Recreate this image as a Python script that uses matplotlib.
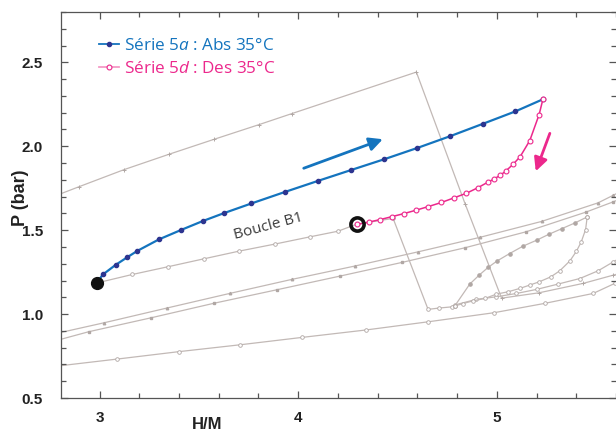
import numpy as np
import matplotlib.pyplot as plt
from matplotlib.lines import Line2D
from matplotlib.ticker import MultipleLocator, FormatStrFormatter

plt.rcParams['mathtext.fontset'] = 'custom'
plt.rcParams['mathtext.rm'] = 'Open Sans'
plt.rcParams['mathtext.it'] = 'Open Sans:italic'

# Série 5a : absorption 35°C
abs_x = [2.985, 3.017, 3.081, 3.140, 3.191, 3.299, 3.412, 3.519, 3.625, 3.764,
         3.934, 4.098, 4.268, 4.434, 4.600, 4.765, 4.928, 5.094, 5.232]
abs_y = [1.185, 1.236, 1.293, 1.339, 1.377, 1.445, 1.502, 1.554, 1.601, 1.659,
         1.728, 1.793, 1.859, 1.923, 1.990, 2.060, 2.133, 2.208, 2.280]

# Série 5d : désorption 35°C
des_x = [5.232, 5.213, 5.166, 5.118, 5.084, 5.044, 5.017, 4.986, 4.955, 4.903,
         4.847, 4.783, 4.721, 4.656, 4.593, 4.533, 4.473, 4.412, 4.355, 4.296]
des_y = [2.280, 2.189, 2.034, 1.939, 1.895, 1.851, 1.827, 1.805, 1.786, 1.752,
         1.720, 1.692, 1.665, 1.641, 1.619, 1.599, 1.581, 1.563, 1.548, 1.534]

# autres isothermes (en gris)
g1_x = [2.75, 2.899, 3.124, 3.349, 3.578, 3.803, 3.969, 4.595, 4.841, 5.024, 5.213, 5.435, 5.586, 5.70]
g1_y = [1.692, 1.760, 1.861, 1.952, 2.042, 2.129, 2.195, 2.442, 1.655, 1.095, 1.127, 1.183, 1.232, 1.268]

g2_x = [2.985, 3.165, 3.344, 3.524, 3.702, 3.882, 4.058, 4.201, 4.295, 4.478, 4.654, 4.709,
        4.772, 4.788, 4.897, 4.998, 5.099, 5.200, 5.309, 5.418, 5.510, 5.586, 5.65]
g2_y = [1.185, 1.236, 1.282, 1.329, 1.375, 1.417, 1.460, 1.494, 1.536, 1.570, 1.028, 1.036,
        1.043, 1.054, 1.088, 1.103, 1.123, 1.147, 1.179, 1.212, 1.258, 1.311, 1.355]

loop_up_x = [4.788, 4.864, 4.911, 4.956, 5.002, 5.065, 5.132, 5.200, 5.263, 5.329, 5.393, 5.455]
loop_up_y = [1.048, 1.179, 1.232, 1.278, 1.317, 1.361, 1.405, 1.440, 1.476, 1.510, 1.543, 1.579]
loop_dn_x = [5.455, 5.447, 5.425, 5.401, 5.368, 5.317, 5.272, 5.213, 5.166, 5.116, 5.057,
             4.998, 4.940, 4.881, 4.830, 4.788]
loop_dn_y = [1.579, 1.504, 1.430, 1.375, 1.317, 1.258, 1.222, 1.192, 1.173, 1.153, 1.133,
             1.119, 1.093, 1.079, 1.063, 1.048]

g3_x = [2.75, 3.022, 3.339, 3.655, 3.969, 4.288, 4.604, 4.914, 5.225, 5.510, 5.586, 5.65]
g3_y = [0.876, 0.948, 1.036, 1.123, 1.207, 1.287, 1.371, 1.457, 1.552, 1.663, 1.708, 1.746]

g4_x = [2.75, 2.946, 3.260, 3.574, 3.893, 4.209, 4.523, 4.839, 5.146, 5.447, 5.584, 5.65]
g4_y = [0.832, 0.895, 0.978, 1.064, 1.145, 1.226, 1.308, 1.395, 1.490, 1.607, 1.668, 1.70]

g5_x = [2.75, 3.089, 3.398, 3.707, 4.019, 4.339, 4.654, 4.985, 5.242, 5.485, 5.594, 5.65]
g5_y = [0.685, 0.732, 0.776, 0.817, 0.861, 0.905, 0.954, 1.008, 1.064, 1.123, 1.183, 1.21]

blue_arrow = [(4.028, 1.869), (4.426, 2.042)]
pink_arrow = [(5.267, 2.077), (5.196, 1.851)]

BLUE = '#1474be'
NAVY = '#2d3590'
PINK = '#ec288c'
GREY = '#c2b9b6'
GREYM = '#b0a7a4'

fig = plt.figure(figsize=(6.16, 4.32), dpi=100)
ax = fig.add_axes([0.099, 0.0787, 0.901, 0.8935])

lw_g = 0.9
ax.plot(g1_x, g1_y, color=GREY, lw=lw_g, marker='+', ms=2.5, mec=GREYM, mew=0.7, zorder=1)
ax.plot(g3_x, g3_y, color=GREY, lw=lw_g, marker='^', ms=1.8, mec=GREYM, mfc=GREYM, zorder=1)
ax.plot(g4_x, g4_y, color=GREY, lw=lw_g, marker='s', ms=2.0, mec=GREYM, mfc=GREYM, zorder=1)
ax.plot(g5_x, g5_y, color=GREY, lw=lw_g, marker='o', ms=2.6, mec=GREYM, mfc='white', mew=0.6, zorder=1)
ax.plot(g2_x, g2_y, color=GREY, lw=lw_g, marker='o', ms=2.6, mec=GREYM, mfc='white', mew=0.6, zorder=1)
ax.plot(loop_up_x, loop_up_y, color=GREY, lw=lw_g, marker='o', ms=2.3, mec=GREYM, mfc=GREYM, zorder=1)
ax.plot(loop_dn_x, loop_dn_y, color=GREY, lw=lw_g, marker='o', ms=2.6, mec=GREYM, mfc='white', mew=0.6, zorder=1)

ax.plot(abs_x, abs_y, color=BLUE, lw=1.6, marker='o', ms=3, mfc=NAVY, mec=NAVY, zorder=3)
ax.plot(des_x, des_y, color=PINK, lw=1.1, marker='o', ms=3.5, mfc='white', mec=PINK, mew=0.8, zorder=3)

# début de la boucle / point de retour
ax.plot(abs_x[0], abs_y[0], 'o', color='#111111', ms=8.5, zorder=4)
ax.plot(des_x[-1], des_y[-1], 'o', mfc='none', mec='#111111', mew=2.6, ms=9.5, zorder=4)

ax.annotate('', xy=blue_arrow[1], xytext=blue_arrow[0],
            arrowprops=dict(arrowstyle='-|>', color=BLUE, lw=2, mutation_scale=20, shrinkA=0, shrinkB=0))
ax.annotate('', xy=pink_arrow[1], xytext=pink_arrow[0],
            arrowprops=dict(arrowstyle='-|>', color=PINK, lw=2, mutation_scale=20, shrinkA=0, shrinkB=0))

ax.text(3.851, 1.524, 'Boucle B1', rotation=15, ha='center', va='center',
        fontsize=11, family='Open Sans', color='#3a3a3a')

handles = [Line2D([], [], color=BLUE, lw=1.3, marker='o', ms=3, mfc=NAVY, mec=NAVY),
           Line2D([], [], color='#f49ac6', lw=1.3, marker='o', ms=3.5, mfc='white', mec=PINK, mew=0.8)]
labels = [r'Série $\mathit{5a}$ : Abs 35°C', r'Série $\mathit{5d}$ : Des 35°C']
leg = ax.legend(handles, labels, loc='upper left', bbox_to_anchor=(0.04, 0.972), frameon=False,
                handlelength=1.2, handletextpad=0.3, labelspacing=0.4,
                prop={'family': 'Open Sans', 'size': 12.3}, labelcolor=[BLUE, PINK])

ax.set_xlim(2.806, 5.6)
ax.set_ylim(0.5, 2.8)
ax.xaxis.set_major_locator(MultipleLocator(1))
ax.xaxis.set_minor_locator(MultipleLocator(0.2))
ax.yaxis.set_major_locator(MultipleLocator(0.5))
ax.yaxis.set_minor_locator(MultipleLocator(0.1))
ax.yaxis.set_major_formatter(FormatStrFormatter('%.1f'))
ax.tick_params(which='both', direction='in', top=True, right=True, color='#555555', width=0.9)
ax.tick_params(which='major', length=5)
ax.tick_params(which='minor', length=3.5)
ax.tick_params(axis='x', pad=9)
ax.tick_params(axis='y', pad=13)
for lab in ax.get_xticklabels() + ax.get_yticklabels():
    lab.set_fontweight('bold')
    lab.set_fontsize(11)
    lab.set_family('Liberation Sans')
    lab.set_color('#222222')
ax.spines['right'].set_visible(False)
for s in ['left', 'top', 'bottom']:
    ax.spines[s].set_color('#555555')
    ax.spines[s].set_linewidth(0.9)

ax.set_xlabel('H/M', fontsize=12, fontweight='bold', family='Liberation Sans', color='#222222')
ax.xaxis.set_label_coords(0.263, -0.05)
ax.set_ylabel('P (bar)', fontsize=13, fontweight='bold', family='Liberation Sans', color='#222222')
ax.yaxis.set_label_coords(-0.058, 0.52)

fig.savefig('out.png', dpi=100)
